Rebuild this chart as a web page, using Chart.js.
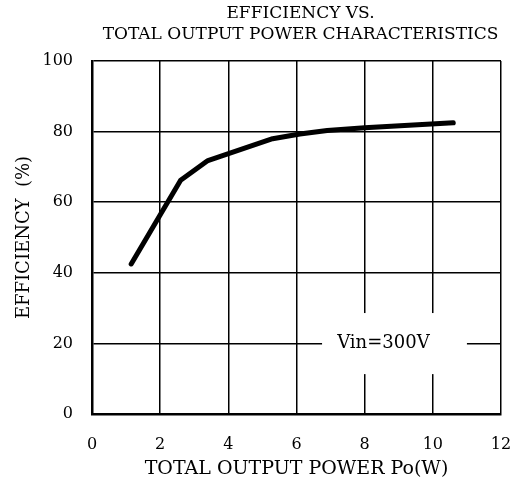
<!DOCTYPE html>
<html>
<head>
<meta charset="utf-8">
<script src="https://cdn.jsdelivr.net/npm/chart.js@4"></script>
<style>
  body { margin: 0; background: #fff; }
  #wrap { width: 520px; height: 484px; }
</style>
</head>
<body>
<div id="wrap"><canvas id="effChart" width="520" height="484"></canvas></div>
<script>
// efficiency curve
const powerW = [1.15, 2.6, 3.4, 5.3, 6.1, 6.9, 8.0, 10.6];
const efficiency = [42.5, 66.2, 71.8, 78.0, 79.3, 80.3, 81.1, 82.5];
const titleLines = ["EFFICIENCY VS.", "TOTAL OUTPUT POWER CHARACTERISTICS"];
const noteText = "Vin=300V";

const serif = "'DejaVu Serif', 'Liberation Serif', serif";

// title over the plot + the Vin note box
const extraText = {
  id: "extraText",
  afterDraw(chart) {
    const ctx = chart.ctx;
    const area = chart.chartArea;
    const xs = chart.scales.x;
    const ys = chart.scales.y;
    ctx.save();
    ctx.fillStyle = "#000";
    ctx.textAlign = "center";
    ctx.textBaseline = "middle";
    ctx.font = "17px " + serif;
    const cx = (area.left + area.right) / 2 + 4;
    ctx.fillText(titleLines[0], cx, 14);
    ctx.fillText(titleLines[1], cx, 35);

    // note box sits on the 20% gridline
    const bx = xs.getPixelForValue(6.75);
    const bx2 = xs.getPixelForValue(11.0);
    const by = ys.getPixelForValue(28.6);
    const by2 = ys.getPixelForValue(11.3);
    ctx.fillStyle = "#fff";
    ctx.fillRect(bx, by, bx2 - bx, by2 - by);
    ctx.fillStyle = "#000";
    ctx.font = "18px " + serif;
    ctx.fillText(noteText, xs.getPixelForValue(8.55), ys.getPixelForValue(20));
    ctx.restore();
  },
};

const ctx = document.getElementById("effChart").getContext("2d");

new Chart(ctx, {
  type: "line",
  data: {
    datasets: [
      {
        label: "Efficiency",
        data: powerW.map((p, i) => ({ x: p, y: efficiency[i] })),
        borderColor: "#000",
        borderWidth: 5,
        borderCapStyle: "round",
        borderJoinStyle: "round",
        pointRadius: 0,
        tension: 0,
        fill: false,
      },
    ],
  },
  options: {
    responsive: false,
    animation: false,
    layout: { padding: { top: 61, right: 19, left: 0, bottom: 0 } },
    plugins: {
      legend: { display: false },
      tooltip: { enabled: false },
    },
    scales: {
      x: {
        type: "linear",
        min: 0,
        max: 12,
        afterFit: (s) => {
          s.height = 70;
          s.paddingLeft = 0;
          s.paddingRight = 0;
        },
        border: { color: "#000", width: 2.5 },
        grid: { color: "#000", lineWidth: 1.5, drawTicks: false },
        ticks: {
          stepSize: 2,
          padding: 21,
          color: "#000",
          font: { family: serif, size: 16 },
        },
        title: {
          display: true,
          text: "TOTAL OUTPUT POWER Po(W)",
          color: "#000",
          font: { family: serif, size: 19 },
          padding: { top: 3 },
        },
      },
      y: {
        min: 0,
        max: 100,
        afterFit: (s) => {
          s.width = 92;
          s.paddingTop = 0;
          s.paddingBottom = 0;
        },
        border: { color: "#000", width: 2.5 },
        grid: { color: "#000", lineWidth: 1.5, drawTicks: false },
        ticks: {
          stepSize: 20,
          padding: 19,
          color: "#000",
          font: { family: serif, size: 16 },
        },
        title: {
          display: true,
          text: "EFFICIENCY  (%)",
          color: "#000",
          font: { family: serif, size: 18 },
          padding: { top: 14, bottom: 0 },
        },
      },
    },
  },
  plugins: [extraText],
});
</script>
</body>
</html>
